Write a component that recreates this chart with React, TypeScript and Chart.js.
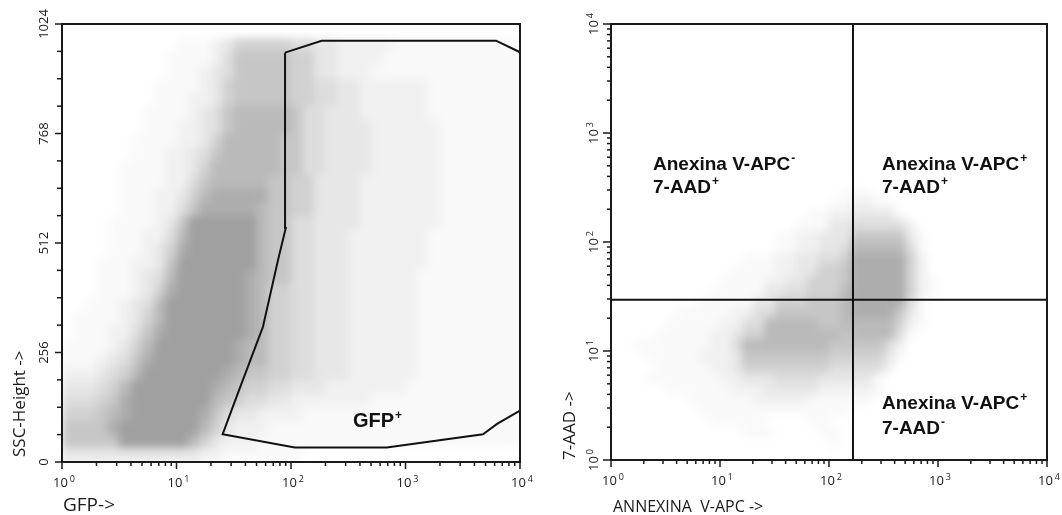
import React, { useEffect, useRef } from 'react';
import { Chart, registerables } from 'chart.js';

Chart.register(...registerables);

// ---------------- Left panel: GFP (log) vs SSC-Height (linear) ----------------
const gfpDecades = [0, 1, 2, 3, 4];
const sscTickValues = [0, 256, 512, 768, 1024];
const sscTickLabels = ['0', '256', '512', '768', '1024'];
const sscMinorStep = 64;
const gfpBinsPerDecade = 10; // columns: log10(GFP) 0.0 .. 4.0 in 0.1 steps
const sscBinSize = 32; // rows: SSC in steps of 32
// event density per bin (0 = empty, 9 = solid), first row = SSC 992-1024, last row = SSC 0-32
const gfpSscDensity = [
  '0000000000000000000000000000000000000000',
  '0000000000111235555544332222211111111111',
  '0000000001111246666655332222111111111111',
  '0000000001112346666655332221111111111111',
  '0000000011112356666655443322222211111111',
  '0000000011122356666655443322222211111111',
  '0000000111123467777764433322222211111111',
  '0000000111223467777764433332222221111111',
  '0000001111223577777664433332222221111111',
  '0000001112234677777664433332222221111111',
  '0000011112235777777664433332222221111111',
  '0000011112246777776655333322222221111111',
  '0000011122357888886655333322222221111111',
  '0000011122468888876655333322222221111111',
  '0000111123699999976644333322222221111111',
  '0000111224799999976644333222222211111111',
  '0000111235899999976644333222222211111111',
  '0001112236999999976644333222222211111111',
  '0001112347999999876644333222222111111111',
  '0001112358999999875544333222222111111111',
  '0011123479999999875544333222222111111111',
  '0111123579999999875544333222222111111111',
  '0111224689999999875544333222222111111111',
  '1111235799999998775544333222222111111111',
  '1112346899999998775544333222222111111111',
  '2223457999999987665544333222222111111111',
  '3334579999999876554433322222221111111111',
  '4445689999999765443322222221111111111111',
  '5556789999998643322221111111111111111111',
  '6666899999997532221111111111111111111111',
  '6666699999975322211111111111111111111111',
  '3333333333332211111110000000000000000000',
];
// GFP+ gate polygon
const gateGFP = [88.7, 185, 6170, 10000, 10000, 6310, 4750, 685, 108, 25.3, 34.4, 56.9, 77, 90, 88.7];
const gateSSC = [957, 985, 985, 958, 120, 89, 65, 34, 34, 65, 161, 316, 472, 547, 957];
const gateLabel = ['GFP', '+'];
const leftXTitle = 'GFP->';
const leftYTitle = 'SSC-Height ->';

// ---------------- Right panel: Annexin V-APC (log) vs 7-AAD (log) ----------------
const annexinDecades = [0, 1, 2, 3, 4];
const aadDecades = [0, 1, 2, 3, 4];
const binsPerDecade = 10;
// first row = log10(7-AAD) 2.5-2.6, last row = 0.0-0.1; columns log10(Annexin) 0.0 .. 4.0
const annexinAadDensity = [
  '0000000000000000000000000000000000000000',
  '0000000000000000000001110000000000000000',
  '0000000000000000000011221100000000000000',
  '0000000000000000001122333310000000000000',
  '0000000000000000011133444442000000000000',
  '0000000000000001122333666663100000000000',
  '0000000000000001122334777774100000000000',
  '0000000000001112233445888885200000000000',
  '0000000000011112233556888885200000000000',
  '0000000000111122335556888885210000000000',
  '0000000001111133445557888885210000000000',
  '0000000011111335556667888884100000000000',
  '0000001111122446666667888863100000000000',
  '0000011111224477777667777752100000000000',
  '0000111112235577777776777741000000000000',
  '0011111112247777777766666420000000000000',
  '0001111122236666666655555310000000000000',
  '0000111112235555555544444200000000000000',
  '0001111111223334444333331000000000000000',
  '0000011111122233333222221000000000000000',
  '0000000111111222221111110000000000000000',
  '0000000011111111111111000000000000000000',
  '0000000001111100001100000000000000000000',
  '0000000000001110000110000000000000000000',
  '0000000000000000000010000000000000000000',
  '0000000000000000000000000000000000000000',
];
const quadrantAnnexin = 166;
const quadrantAAD = 29.5;
const quadrantLabels = [
  ['Anexina V-APC', '-', '7-AAD', '+'],
  ['Anexina V-APC', '+', '7-AAD', '+'],
  ['Anexina V-APC', '+', '7-AAD', '-'],
];
const rightXTitle = 'ANNEXINA  V-APC ->';
const rightYTitle = '7-AAD ->';

// ---------------- drawing helpers ----------------
const SANS = '"Open Sans", "DejaVu Sans", sans-serif';
const BOLD = '"Liberation Sans", Arial, sans-serif';
const INK = '#1a1a1a';

function cellColor(d: number) {
  const a = Math.pow(d / 9, 1.25);
  const v = Math.round(255 - (255 - 160) * a);
  return `rgb(${v},${v},${v})`;
}

function drawDensity(chart: any, rows: string[], xEdge: (c: number) => number, yEdge: (r: number) => number) {
  const { ctx, chartArea: a } = chart;
  const xs = chart.scales.x;
  const ys = chart.scales.y;
  const off = document.createElement('canvas');
  off.width = chart.width;
  off.height = chart.height;
  const o = off.getContext('2d')!;
  const n = rows.length;
  rows.forEach((row, i) => {
    const r = n - 1 - i;
    const yTop = Math.round(ys.getPixelForValue(yEdge(r + 1)));
    const yBot = Math.round(ys.getPixelForValue(yEdge(r)));
    for (let c = 0; c < row.length; c++) {
      const d = Number(row[c]);
      if (!d) continue;
      const x0 = Math.round(xs.getPixelForValue(xEdge(c)));
      const x1 = Math.round(xs.getPixelForValue(xEdge(c + 1)));
      o.fillStyle = cellColor(d);
      o.fillRect(x0, yTop, x1 - x0, yBot - yTop);
    }
  });
  ctx.save();
  ctx.beginPath();
  ctx.rect(a.left, a.top, a.right - a.left, a.bottom - a.top);
  ctx.clip();
  ctx.filter = 'blur(4px)';
  ctx.drawImage(off, 0, 0);
  ctx.restore();
}

function line(ctx: CanvasRenderingContext2D, x0: number, y0: number, x1: number, y1: number) {
  ctx.beginPath();
  ctx.moveTo(x0, y0);
  ctx.lineTo(x1, y1);
  ctx.stroke();
}

function drawPow(ctx: CanvasRenderingContext2D, exp: number, cx: number, baseline: number, size: number) {
  const big = `${size}px ${SANS}`;
  const small = `${Math.round(size * 0.72)}px ${SANS}`;
  ctx.font = big;
  const w10 = ctx.measureText('10').width;
  ctx.font = small;
  const we = ctx.measureText(String(exp)).width;
  const gap = 2;
  const start = cx - (w10 + gap + we) / 2;
  ctx.textAlign = 'left';
  ctx.textBaseline = 'alphabetic';
  ctx.font = big;
  ctx.fillText('10', start, baseline);
  ctx.font = small;
  ctx.fillText(String(exp), start + w10 + gap, baseline - size * 0.38);
}

function drawSupText(ctx: CanvasRenderingContext2D, text: string, sup: string, x: number, baseline: number, size: number) {
  ctx.textAlign = 'left';
  ctx.textBaseline = 'alphabetic';
  ctx.font = `bold ${size}px ${BOLD}`;
  ctx.fillText(text, x, baseline);
  const w = ctx.measureText(text).width;
  ctx.font = `bold ${Math.round(size * 0.62)}px ${BOLD}`;
  ctx.fillText(sup, x + w + 1, baseline - size * 0.42);
}

function drawLogXTicks(chart: any, decades: number[], majorLen: number, minorLen: number) {
  const ctx = chart.ctx as CanvasRenderingContext2D;
  const xs = chart.scales.x;
  const b = chart.chartArea.bottom;
  decades.forEach((e, i) => {
    const maxK = i === decades.length - 1 ? 1 : 9;
    for (let k = 1; k <= maxK; k++) {
      const px = xs.getPixelForValue(k * Math.pow(10, e));
      line(ctx, px, b, px, b + (k === 1 ? majorLen : minorLen));
    }
    ctx.fillStyle = INK;
    drawPow(ctx, e, xs.getPixelForValue(Math.pow(10, e)) + 2, b + 25, 13);
  });
}

function baseOptions(yWidth: number, xHeight: number, padRight: number, xType: string, yType: string, yMin: number, yMax: number) {
  return {
    animation: false,
    responsive: false,
    maintainAspectRatio: false,
    events: [],
    layout: { autoPadding: false, padding: { left: 0, right: padRight, top: 24, bottom: 0 } },
    plugins: { legend: { display: false }, tooltip: { enabled: false }, title: { display: false } },
    scales: {
      x: {
        type: xType,
        min: 1,
        max: 10000,
        grid: { display: false },
        border: { display: false },
        ticks: { display: false },
        afterFit: (s: any) => {
          s.height = xHeight;
        },
      },
      y: {
        type: yType,
        min: yMin,
        max: yMax,
        grid: { display: false },
        border: { display: false },
        ticks: { display: false },
        afterFit: (s: any) => {
          s.width = yWidth;
        },
      },
    },
  };
}

const leftPlugin = {
  id: 'leftPanel',
  beforeDatasetsDraw(chart: any) {
    drawDensity(
      chart,
      gfpSscDensity,
      (c) => Math.pow(10, c / gfpBinsPerDecade),
      (r) => r * sscBinSize,
    );
  },
  afterDraw(chart: any) {
    const ctx = chart.ctx as CanvasRenderingContext2D;
    const a = chart.chartArea;
    const ys = chart.scales.y;
    ctx.save();
    ctx.strokeStyle = INK;
    ctx.lineWidth = 2;
    ctx.strokeRect(a.left, a.top, a.right - a.left, a.bottom - a.top);
    ctx.lineWidth = 1.5;
    drawLogXTicks(chart, gfpDecades, 7, 4);
    for (let v = 0; v <= 1024; v += sscMinorStep) {
      const py = ys.getPixelForValue(v);
      line(ctx, a.left - (v % 256 === 0 ? 7 : 5), py, a.left, py);
    }
    ctx.fillStyle = INK;
    ctx.font = `13px ${SANS}`;
    sscTickValues.forEach((v, i) => {
      ctx.save();
      ctx.translate(a.left - 18, ys.getPixelForValue(v));
      ctx.rotate(-Math.PI / 2);
      ctx.textAlign = 'center';
      ctx.textBaseline = 'middle';
      ctx.fillText(sscTickLabels[i], 0, 0);
      ctx.restore();
    });
    // axis titles
    ctx.textAlign = 'left';
    ctx.textBaseline = 'alphabetic';
    ctx.font = `19px ${SANS}`;
    ctx.fillText(leftXTitle, a.left + 1, 511);
    ctx.font = `17px ${SANS}`;
    ctx.save();
    ctx.translate(20, 457);
    ctx.rotate(-Math.PI / 2);
    ctx.textBaseline = 'middle';
    ctx.fillText(leftYTitle, 0, 0);
    ctx.restore();
    // gate label
    ctx.fillStyle = '#111';
    drawSupText(ctx, gateLabel[0], gateLabel[1], 353, 427, 20);
    ctx.restore();
  },
};

const rightPlugin = {
  id: 'rightPanel',
  beforeDatasetsDraw(chart: any) {
    drawDensity(
      chart,
      annexinAadDensity,
      (c) => Math.pow(10, c / binsPerDecade),
      (r) => Math.pow(10, r / binsPerDecade),
    );
  },
  afterDraw(chart: any) {
    const ctx = chart.ctx as CanvasRenderingContext2D;
    const a = chart.chartArea;
    const ys = chart.scales.y;
    ctx.save();
    ctx.strokeStyle = INK;
    ctx.lineWidth = 2;
    ctx.strokeRect(a.left, a.top, a.right - a.left, a.bottom - a.top);
    ctx.lineWidth = 1.5;
    drawLogXTicks(chart, annexinDecades, 7, 4);
    aadDecades.forEach((e, i) => {
      const maxK = i === aadDecades.length - 1 ? 1 : 9;
      for (let k = 1; k <= maxK; k++) {
        const py = ys.getPixelForValue(k * Math.pow(10, e));
        line(ctx, a.left - (k === 1 ? 8 : 4), py, a.left, py);
      }
      ctx.save();
      ctx.translate(a.left - 18, ys.getPixelForValue(Math.pow(10, e)));
      ctx.rotate(-Math.PI / 2);
      ctx.fillStyle = INK;
      drawPow(ctx, e, 0, 5, 13);
      ctx.restore();
    });
    ctx.fillStyle = INK;
    ctx.font = `16px ${SANS}`;
    ctx.textAlign = 'left';
    ctx.textBaseline = 'alphabetic';
    ctx.fillText(rightXTitle, a.left + 2, 512);
    ctx.font = `17px ${SANS}`;
    ctx.save();
    ctx.translate(25, 460);
    ctx.rotate(-Math.PI / 2);
    ctx.textBaseline = 'middle';
    ctx.fillText(rightYTitle, 0, 0);
    ctx.restore();
    // quadrant labels
    ctx.fillStyle = '#111';
    const spots = [
      [108, 170, 193],
      [337, 170, 193],
      [337, 409, 434],
    ];
    quadrantLabels.forEach((q, i) => {
      const [x, b1, b2] = spots[i];
      drawSupText(ctx, q[0], q[1], x, b1, 19);
      drawSupText(ctx, q[2], q[3], x, b2, 19);
    });
    ctx.restore();
  },
};

export default function App() {
  const leftRef = useRef<HTMLCanvasElement>(null);
  const rightRef = useRef<HTMLCanvasElement>(null);

  useEffect(() => {
    const left = new Chart(leftRef.current as HTMLCanvasElement, {
      type: 'scatter',
      data: {
        datasets: [
          {
            data: gateGFP.map((x, i) => ({ x, y: gateSSC[i] })),
            showLine: true,
            borderColor: '#111',
            borderWidth: 2,
            pointRadius: 0,
            fill: false,
            tension: 0,
          },
        ],
      },
      options: baseOptions(62, 53, 25, 'logarithmic', 'linear', 0, 1024) as any,
      plugins: [leftPlugin],
    });
    const right = new Chart(rightRef.current as HTMLCanvasElement, {
      type: 'scatter',
      data: {
        datasets: [
          {
            data: [
              { x: quadrantAnnexin, y: 1 },
              { x: quadrantAnnexin, y: 10000 },
            ],
            showLine: true,
            borderColor: '#111',
            borderWidth: 2,
            pointRadius: 0,
          },
          {
            data: [
              { x: 1, y: quadrantAAD },
              { x: 10000, y: quadrantAAD },
            ],
            showLine: true,
            borderColor: '#111',
            borderWidth: 2,
            pointRadius: 0,
          },
        ],
      },
      options: baseOptions(66, 55, 15, 'logarithmic', 'logarithmic', 1, 10000) as any,
      plugins: [rightPlugin],
    });
    return () => {
      left.destroy();
      right.destroy();
    };
  }, []);

  return (
    <div style={{ position: 'absolute', left: 0, top: 0, width: 1062, height: 515, background: '#fff', overflow: 'hidden' }}>
      <canvas ref={leftRef} width={545} height={515} style={{ position: 'absolute', left: 0, top: 0 }} />
      <canvas ref={rightRef} width={517} height={515} style={{ position: 'absolute', left: 545, top: 0 }} />
    </div>
  );
}
